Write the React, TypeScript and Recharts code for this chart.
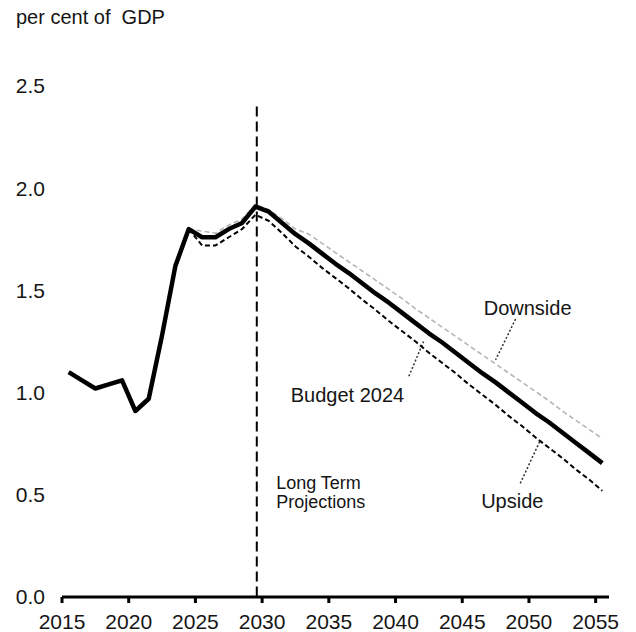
import React from "react";
import { LineChart, Line, XAxis, YAxis, ReferenceLine, ReferenceDot } from "recharts";

// Fiscal years (plotted at mid-year)
const fiscalYears = [
  2015, 2016, 2017, 2018, 2019, 2020, 2021, 2022, 2023, 2024,
  2025, 2026, 2027, 2028, 2029, 2030, 2031, 2032, 2033, 2034,
  2035, 2036, 2037, 2038, 2039, 2040, 2041, 2042, 2043, 2044,
  2045, 2046, 2047, 2048, 2049, 2050, 2051, 2052, 2053, 2054, 2055,
];

const budget2024 = [
  1.10, 1.06, 1.02, 1.04, 1.06, 0.91, 0.97, 1.28, 1.62, 1.80,
  1.76, 1.76, 1.80, 1.83, 1.91, 1.885, 1.83, 1.775, 1.73, 1.68,
  1.63, 1.585, 1.535, 1.485, 1.44, 1.39, 1.34, 1.29, 1.245, 1.195,
  1.145, 1.095, 1.05, 1.00, 0.95, 0.90, 0.855, 0.805, 0.755, 0.705, 0.655,
];

const upside = [
  null, null, null, null, null, null, null, null, null, 1.80,
  1.72, 1.72, 1.76, 1.80, 1.87, 1.84, 1.78, 1.715, 1.665, 1.61,
  1.56, 1.51, 1.455, 1.405, 1.35, 1.30, 1.25, 1.195, 1.145, 1.095,
  1.04, 0.99, 0.94, 0.885, 0.835, 0.78, 0.73, 0.68, 0.625, 0.575, 0.52,
];

const downside = [
  null, null, null, null, null, null, null, null, null, 1.80,
  1.79, 1.78, 1.82, 1.85, 1.92, 1.895, 1.85, 1.80, 1.775, 1.73,
  1.685, 1.64, 1.595, 1.55, 1.505, 1.46, 1.41, 1.365, 1.32, 1.275,
  1.23, 1.185, 1.14, 1.095, 1.05, 1.005, 0.96, 0.91, 0.865, 0.82, 0.775,
];

const xTicks = [2015, 2020, 2025, 2030, 2035, 2040, 2045, 2050, 2055];
const yTicks = [0, 0.5, 1.0, 1.5, 2.0, 2.5];
const projectionStart = 2029.6;

const annotations = [
  { text: "Downside", x: 2049.9, y: 1.415 },
  { text: "Budget 2024", x: 2036.4, y: 0.99 },
  { text: "Upside", x: 2048.75, y: 0.47 },
];

const projectionLabel = { lines: ["Long Term", "Projections"], x: 2031.05, y: 0.557 };

const leaders = [
  { from: [2049.0, 1.36], to: [2047.5, 1.16] },
  { from: [2041.0, 1.08], to: [2042.1, 1.25] },
  { from: [2049.35, 0.556], to: [2050.85, 0.767] },
];

const data = fiscalYears.map((fy, i) => ({
  x: fy + 0.5,
  budget: budget2024[i],
  upside: upside[i],
  downside: downside[i],
}));

const FONT = "'Liberation Sans', Arial, sans-serif";
const TEXT = "#151515";

function ProjectionText(props: any) {
  const vb = props.viewBox || {};
  const x = vb.x ?? 0;
  const y = vb.y ?? 0;
  return (
    <text x={x} y={y} fontSize={18} fill={TEXT} fontFamily={FONT} textAnchor="start">
      <tspan x={x} dy="0.35em">{projectionLabel.lines[0]}</tspan>
      <tspan x={x} dy="19">{projectionLabel.lines[1]}</tspan>
    </text>
  );
}

export default function App() {
  return (
    <div style={{ position: "absolute", left: 0, top: 0, width: 636, height: 632, background: "#fff" }}>
      <div
        style={{
          position: "absolute",
          left: 16,
          top: 6,
          fontFamily: FONT,
          fontSize: 20,
          lineHeight: "23px",
          color: TEXT,
          whiteSpace: "pre",
        }}
      >
        {"per cent of  GDP"}
      </div>
      <LineChart
        width={636}
        height={632}
        data={data}
        margin={{ top: 86, right: 27, left: 0, bottom: 0 }}
        style={{ fontFamily: FONT }}
      >
        <XAxis
          dataKey="x"
          type="number"
          domain={[2015, 2056]}
          ticks={xTicks}
          allowDataOverflow
          height={35}
          axisLine={{ stroke: "#000", strokeWidth: 3 }}
          tickLine={{ stroke: "#000", strokeWidth: 3 }}
          tickSize={6}
          tickMargin={11}
          tick={{ fontSize: 21, fill: TEXT, fontFamily: FONT }}
        />
        <YAxis
          type="number"
          domain={[0, 2.5]}
          ticks={yTicks}
          width={62}
          axisLine={false}
          tickLine={false}
          tickSize={0}
          tickMargin={17}
          tickFormatter={(v: number) => v.toFixed(1)}
          tick={{ fontSize: 21, fill: TEXT, fontFamily: FONT }}
        />
        <ReferenceLine
          segment={[
            { x: projectionStart, y: 2.4 },
            { x: projectionStart, y: 0 },
          ]}
          stroke="#000"
          strokeWidth={2}
          strokeDasharray="10 5"
        />
        {leaders.map((l, i) => (
          <ReferenceLine
            key={"l" + i}
            segment={[
              { x: l.from[0], y: l.from[1] },
              { x: l.to[0], y: l.to[1] },
            ]}
            stroke="#333"
            strokeWidth={1.5}
            strokeDasharray="2 2"
          />
        ))}
        <Line
          dataKey="downside"
          stroke="#b5b5b5"
          strokeWidth={1.6}
          strokeDasharray="5 3"
          dot={false}
          isAnimationActive={false}
          connectNulls={false}
        />
        <Line
          dataKey="upside"
          stroke="#000"
          strokeWidth={2}
          strokeDasharray="5 3"
          dot={false}
          isAnimationActive={false}
          connectNulls={false}
        />
        <Line
          dataKey="budget"
          stroke="#000"
          strokeWidth={4.5}
          strokeLinejoin="round"
          dot={false}
          isAnimationActive={false}
        />
        {annotations.map((a, i) => (
          <ReferenceDot
            key={"a" + i}
            x={a.x}
            y={a.y}
            r={0}
            fill="none"
            stroke="none"
            label={{ value: a.text, position: "center", fontSize: 20, fill: TEXT, fontFamily: FONT }}
          />
        ))}
        <ReferenceDot
          x={projectionLabel.x}
          y={projectionLabel.y}
          r={0}
          fill="none"
          stroke="none"
          label={{ content: (p: any) => <ProjectionText {...p} /> }}
        />
      </LineChart>
    </div>
  );
}
